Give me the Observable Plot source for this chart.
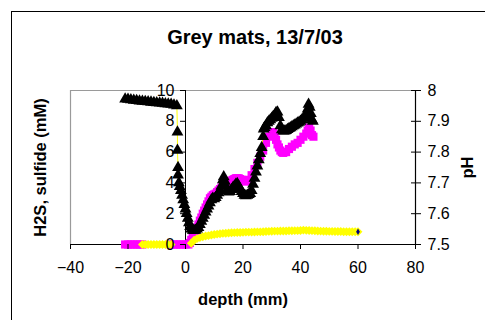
<!DOCTYPE html>
<html>
<head>
<meta charset="utf-8">
<script src="https://cdn.jsdelivr.net/npm/d3@7"></script>
<script src="https://cdn.jsdelivr.net/npm/@observablehq/plot@0.6"></script>
<style>
  html, body { margin: 0; padding: 0; background: #fff; }
  #wrap { position: relative; width: 485px; height: 320px; overflow: hidden; }
  #border { position: absolute; left: 11px; top: 11px; width: 600px; height: 400px;
            border: 1.5px solid #000; pointer-events: none; }
</style>
</head>
<body>
<div id="wrap"><div id="chart"></div><div id="border"></div></div>
<script>
const title = "Grey mats, 13/7/03";
const xLabel = "depth (mm)";
const yLabel = "H2S, sulfide (mM)";
const y2Label = "pH";
const xTicks = [-40, -20, 0, 20, 40, 60, 80];
const yTicks = [0, 2, 4, 6, 8, 10];
const pHTicks = [7.5, 7.6, 7.7, 7.8, 7.9, 8];

// pH profile (right axis)
const pHDepth = [-21,-20,-19,-18,-17,-16,-15,-14,-13,-12,-11,-10,-9,-8,-7,-6,-5,-4,-3,
  -2.8,-2.8,-2.6,-2.6,-2.3,-2.0,-1.6,-1.2,-0.8,-0.4,0,0.4,0.8,1.2,1.6,2.0,2.5,3.0,3.5,4.0,4.5,
  5.0,5.5,6.0,6.5,7.0,7.5,8.0,8.5,9.0,9.5,10.0,10.5,11.0,11.5,12.0,12.5,13.0,13.3,13.7,14.0,14.5,
  15.0,15.5,16.0,16.5,17.0,17.5,18.0,18.5,19.0,19.5,20.0,20.5,21.0,21.5,22.0,22.5,23.0,23.5,24.0,
  24.5,25.0,25.5,26.0,26.5,27.0,27.2,27.5,28.0,28.5,29.0,29.5,30.0,30.5,31.0,31.5,32.0,32.5,33.0,
  33.5,34.0,34.5,35.0,35.5,36.0,36.5,37.0,37.5,38.0,38.5,39.0,39.5,40.0,40.5,41.0,41.5,42.0,42.5,
  42.8,43.2,43.6,44.0,44.3];
const pHValue = [7.972,7.971,7.970,7.968,7.967,7.966,7.965,7.964,7.963,7.962,7.961,7.960,7.959,7.958,7.957,7.956,7.955,7.953,7.950,
  7.865,7.806,7.750,7.725,7.700,7.688,7.675,7.660,7.645,7.630,7.615,7.600,7.585,7.570,7.558,7.550,7.546,7.545,7.546,7.550,7.555,
  7.565,7.575,7.585,7.595,7.605,7.615,7.625,7.635,7.645,7.650,7.648,7.652,7.660,7.668,7.675,7.690,7.710,7.720,7.705,7.690,7.678,
  7.670,7.672,7.678,7.685,7.690,7.695,7.698,7.690,7.680,7.672,7.665,7.660,7.658,7.660,7.662,7.665,7.675,7.695,7.715,
  7.735,7.755,7.775,7.795,7.815,7.850,7.875,7.880,7.885,7.895,7.900,7.905,7.910,7.915,7.920,7.928,7.930,7.912,7.885,
  7.872,7.868,7.868,7.870,7.873,7.876,7.879,7.882,7.885,7.888,7.891,7.894,7.897,7.900,7.905,7.910,7.915,7.922,7.940,
  7.955,7.945,7.925,7.905,7.900];

// H2S (left axis)
const h2sDepth = [-21,-20,-19,-18,-17,-16,-15,-5,-4,-3,-2,-1,0,1,1.5,2,2.5,3,3.5,4,4.5,5,5.5,6,6.5,7,7.5,8,8.5,9,9.5,
  10,10.5,11,11.5,12,12.5,13,13.5,14,14.5,15,15.5,16,16.5,17,17.5,18,18.5,19,19.5,20,20.5,21,22,23,24,25,26,27,28,29,30,
  30.5,31,31.5,32,32.5,33,33.5,34,35,36,37,38,39,40,41,42,42.5,43,43.5,44,44.5];
const h2sValue = [0,0,0,0,0,0,0,0,0,0,0,0,0,0,0.1,0.3,0.5,0.7,0.9,1.1,1.3,1.55,1.75,2.0,2.2,2.4,2.6,2.8,3.0,3.1,3.2,
  3.25,3.3,3.4,3.5,3.6,3.7,3.8,3.9,3.9,4.0,4.05,4.1,4.15,4.2,4.25,4.3,4.3,4.3,4.25,4.2,4.15,4.1,4.1,4.2,4.5,4.9,5.3,5.7,6.1,6.6,7.0,7.3,
  7.3,7.1,6.8,6.5,6.3,6.1,6.0,5.95,6.0,6.2,6.35,6.5,6.6,6.8,7.0,7.2,7.4,7.6,7.4,7.1,7.0];

// Sulfide (left axis)
const sulfDepth = [-15,-14,-13,-12,-11,-10,-9,-8,-7,-6,-5,
  2,3,4,5,6,7,8,9,10,11,12,13,14,15,16,17,18,19,20,21,22,23,24,25,26,27,28,29,30,31,32,33,34,35,36,37,38,39,40,
  41,42,43,44,45,46,47,48,49,50,51,52,53,54,55,56,57,58,59,60];
const sulfValue = [0,0,0,0,0,0,0,0,0,0,0,
  0.08,0.28,0.38,0.45,0.5,0.55,0.58,0.62,0.65,0.67,0.7,0.72,0.73,0.75,0.76,0.77,0.78,0.78,0.79,0.8,0.8,0.8,0.81,0.82,0.82,0.83,0.84,0.85,0.86,0.87,0.87,0.88,0.88,0.88,0.89,0.89,0.9,0.9,0.91,
  0.93,0.92,0.91,0.9,0.89,0.88,0.87,0.86,0.86,0.85,0.85,0.84,0.84,0.84,0.83,0.83,0.83,0.83,0.83,0.83];
const endDepth = [60];
const endValue = [0.83];

// pH mapped onto left scale (7.5..8 -> 0..10)
const toL = p => (p - 7.5) * 20;
const pHData = pHDepth.map((d, i) => ({x: d, y: toL(pHValue[i])}));
const h2sData = h2sDepth.map((d, i) => ({x: d, y: h2sValue[i]}));
const sulfData = sulfDepth.map((d, i) => ({x: d, y: sulfValue[i]}));
const endData = endDepth.map((d, i) => ({x: d, y: endValue[i]}));

const xScale = d3.scaleLinear().domain([-40, 80]).range([70, 415]);
const zeroOffset = xScale(0) - 70;

const chart = Plot.plot({
  width: 485, height: 320,
  marginLeft: 70, marginRight: 70, marginTop: 90, marginBottom: 76,
  style: {fontFamily: "'Liberation Sans', Arial, sans-serif", background: "#fff", color: "#000", overflow: "visible"},
  x: {domain: [-40, 80]},
  y: {domain: [0, 10]},
  marks: [
    Plot.ruleY([10], {stroke: "#9a9a9a", strokeWidth: 1.2}),
    Plot.ruleX([-40], {stroke: "#9a9a9a", strokeWidth: 1.2}),
    Plot.ruleX([0], {stroke: "#000", strokeWidth: 1}),
    Plot.ruleX([80], {stroke: "#000", strokeWidth: 1.2}),
    Plot.ruleY([0], {stroke: "#000", strokeWidth: 1.2}),
    Plot.dot(h2sData, {x: "x", y: "y", symbol: "square", r: 4.6, fill: "#ff00ff", stroke: "none"}),
    Plot.dot(sulfData, {x: "x", y: "y", symbol: "diamond2", r: 4, fill: "#ffff00", stroke: "none"}),
    Plot.line(pHData, {x: "x", y: "y", stroke: "#ffff00", strokeWidth: 1}),
    Plot.dot(pHData, {x: "x", y: "y", symbol: "triangle", r: 4.4, fill: "#000", stroke: "none"}),
    Plot.dot(endData, {x: "x", y: "y", symbol: "diamond", r: 2, fill: "#000080", stroke: "none"}),
    Plot.axisX({ticks: xTicks, tickSize: 5, tickPadding: 12, fontSize: 16, label: null, stroke: "#000"}),
    Plot.axisY({anchor: "left", ticks: yTicks, tickSize: 5, tickPadding: 6, dx: zeroOffset, fontSize: 16, label: null}),
    Plot.axisY({anchor: "right", ticks: pHTicks.map(toL), tickFormat: d => String(Math.round((7.5 + d / 20) * 10) / 10),
                tickSize: 10, dx: -5, tickPadding: 7, fontSize: 16, label: null}),
    Plot.text([title], {text: d => d, frameAnchor: "top", lineAnchor: "middle", dy: -53, dx: 12, fontSize: 20, fontWeight: "bold"}),
    Plot.text([xLabel], {text: d => d, frameAnchor: "bottom", lineAnchor: "middle", dy: 55, fontSize: 16.5, fontWeight: "bold"}),
    Plot.text([yLabel], {text: d => d, frameAnchor: "left", textAnchor: "middle", lineAnchor: "middle", dx: -30, rotate: -90, fontSize: 16.5, fontWeight: "bold"}),
    Plot.text([y2Label], {text: d => d, frameAnchor: "right", textAnchor: "middle", lineAnchor: "middle", dx: 52, rotate: -90, fontSize: 16.5, fontWeight: "bold"})
  ]
});
document.getElementById("chart").appendChild(chart);
</script>
</body>
</html>
